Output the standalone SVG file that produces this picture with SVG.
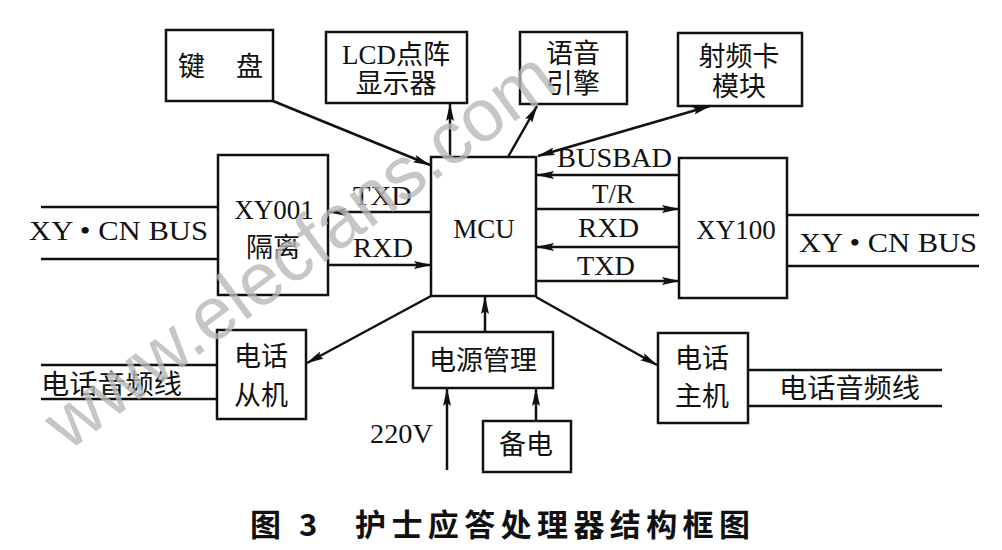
<svg xmlns="http://www.w3.org/2000/svg" width="1002" height="550" viewBox="0 0 1002 550">
<style>
.box{fill:none;stroke:#111;stroke-width:2.5}
.ln{fill:none;stroke:#111;stroke-width:2.5}
.ar{fill:none;stroke:#111;stroke-width:2.5;marker-end:url(#ah)}
.dar{fill:none;stroke:#111;stroke-width:2.5;marker-end:url(#ah);marker-start:url(#ah)}
.t{font-family:"Liberation Serif","Noto Sans CJK SC",serif;font-size:27px;fill:#111}
.c{font-family:"Noto Sans CJK SC",sans-serif;font-size:27px;fill:#111}
.m{text-anchor:middle}
.cap{font-family:"Noto Sans CJK SC",sans-serif;font-size:31px;font-weight:bold;fill:#111}
.wm{font-family:"Liberation Sans",Arial,sans-serif;font-size:74px;fill:#b8b8b8;opacity:0.8}
</style>
<defs>
<marker id="ah" viewBox="0 0 18 10" refX="17" refY="5" markerWidth="18" markerHeight="10" markerUnits="userSpaceOnUse" orient="auto-start-reverse">
<path d="M0,1 L18,5 L0,9 L3,5 z" fill="#111"/>
</marker>
</defs>
<rect width="1002" height="550" fill="#fff"/>

<g id="connectors">
<line class="ar" x1="273" y1="101" x2="430" y2="165"/>
<line class="ar" x1="450" y1="157" x2="450" y2="104"/>
<line class="ar" x1="508" y1="157" x2="537" y2="106"/>
<line class="dar" x1="538" y1="156" x2="710" y2="106"/>
<line class="ar" x1="431" y1="212" x2="329" y2="212"/>
<line class="ar" x1="328" y1="265" x2="431" y2="265"/>
<line class="ar" x1="679" y1="175" x2="537" y2="175"/>
<line class="ar" x1="536" y1="209" x2="679" y2="209"/>
<line class="ar" x1="679" y1="247" x2="537" y2="247"/>
<line class="ar" x1="536" y1="281" x2="679" y2="281"/>
<line class="ar" x1="431" y1="296" x2="307" y2="363"/>
<line class="ar" x1="536" y1="297" x2="657" y2="365"/>
<line class="ar" x1="485" y1="331" x2="485" y2="297"/>
<line class="ar" x1="447" y1="470" x2="447" y2="389"/>
<line class="ar" x1="536" y1="421" x2="536" y2="389"/>
<line class="ln" x1="41" y1="207" x2="218" y2="207"/>
<line class="ln" x1="41" y1="259" x2="218" y2="259"/>
<line class="ln" x1="787" y1="215" x2="979" y2="215"/>
<line class="ln" x1="787" y1="266" x2="979" y2="266"/>
<line class="ln" x1="41" y1="365" x2="217" y2="365"/>
<line class="ln" x1="41" y1="399" x2="217" y2="399"/>
<line class="ln" x1="748" y1="370" x2="942" y2="370"/>
<line class="ln" x1="748" y1="406" x2="942" y2="406"/>
</g>

<g id="labels">
<text class="t" x="29" y="240" textLength="179" lengthAdjust="spacingAndGlyphs">XY • CN BUS</text>
<text class="t" x="799" y="252" textLength="178" lengthAdjust="spacingAndGlyphs">XY • CN BUS</text>
<text class="t" x="353" y="205" textLength="59" lengthAdjust="spacingAndGlyphs">TXD</text>
<text class="t" x="353" y="257" textLength="60" lengthAdjust="spacingAndGlyphs">RXD</text>
<text class="t" x="557" y="167" textLength="115" lengthAdjust="spacingAndGlyphs">BUSBAD</text>
<text class="t m" x="613" y="203">T/R</text>
<text class="t" x="578" y="237" textLength="61" lengthAdjust="spacingAndGlyphs">RXD</text>
<text class="t" x="577" y="275" textLength="58" lengthAdjust="spacingAndGlyphs">TXD</text>
<text class="c" x="41" y="394" textLength="141" lengthAdjust="spacingAndGlyphs">电话音频线</text>
<text class="c" x="779" y="398" textLength="141" lengthAdjust="spacingAndGlyphs">电话音频线</text>
<text class="t" x="370" y="443" textLength="63" lengthAdjust="spacingAndGlyphs">220V</text>
</g>

<g id="keyboard">
<rect class="box" x="166" y="30" width="107" height="71"/>
<text class="c" y="76"><tspan x="178">键</tspan><tspan x="236">盘</tspan></text>
</g>
<g id="lcd">
<rect class="box" x="326" y="32" width="141" height="71"/>
<text class="t m"><tspan x="396" y="64">LCD点阵</tspan><tspan x="396" y="93">显示器</tspan></text>
</g>
<g id="voice">
<rect class="box" x="520" y="32" width="107" height="72"/>
<text class="t m"><tspan x="573" y="63">语音</tspan><tspan x="573" y="93">引擎</tspan></text>
</g>
<g id="rfid">
<rect class="box" x="678" y="33" width="124" height="73"/>
<text class="t m"><tspan x="739" y="66">射频卡</tspan><tspan x="739" y="96">模块</tspan></text>
</g>
<g id="xy001">
<rect class="box" x="218" y="155" width="110" height="140"/>
<text class="t m" x="274" y="219">XY001</text>
<text class="c m" x="273" y="257">隔离</text>
</g>
<g id="mcu">
<rect class="box" x="431" y="157" width="105" height="139"/>
<text class="t m" x="484" y="238">MCU</text>
</g>
<g id="xy100">
<rect class="box" x="679" y="158" width="108" height="140"/>
<text class="t m" x="736" y="239">XY100</text>
</g>
<g id="slave">
<rect class="box" x="217" y="330" width="89" height="89"/>
<text class="c m" x="261" y="366">电话</text>
<text class="c m" x="261" y="405">从机</text>
</g>
<g id="power">
<rect class="box" x="413" y="332" width="140" height="56"/>
<text class="c m" x="483" y="370">电源管理</text>
</g>
<g id="battery">
<rect class="box" x="483" y="421" width="88" height="51"/>
<text class="c m" x="526" y="454">备电</text>
</g>
<g id="host">
<rect class="box" x="658" y="333" width="90" height="90"/>
<text class="c m" x="702" y="368">电话</text>
<text class="c m" x="702" y="406">主机</text>
</g>

<g id="caption">
<text class="cap" x="250" y="536">图</text>
<text class="cap" x="299" y="536">3</text>
<text class="cap" x="355" y="536" textLength="395" lengthAdjust="spacing">护士应答处理器结构框图</text>
</g>

<text class="wm" transform="translate(68,452) rotate(-36.5)">www.elecfans.com</text>
</svg>
